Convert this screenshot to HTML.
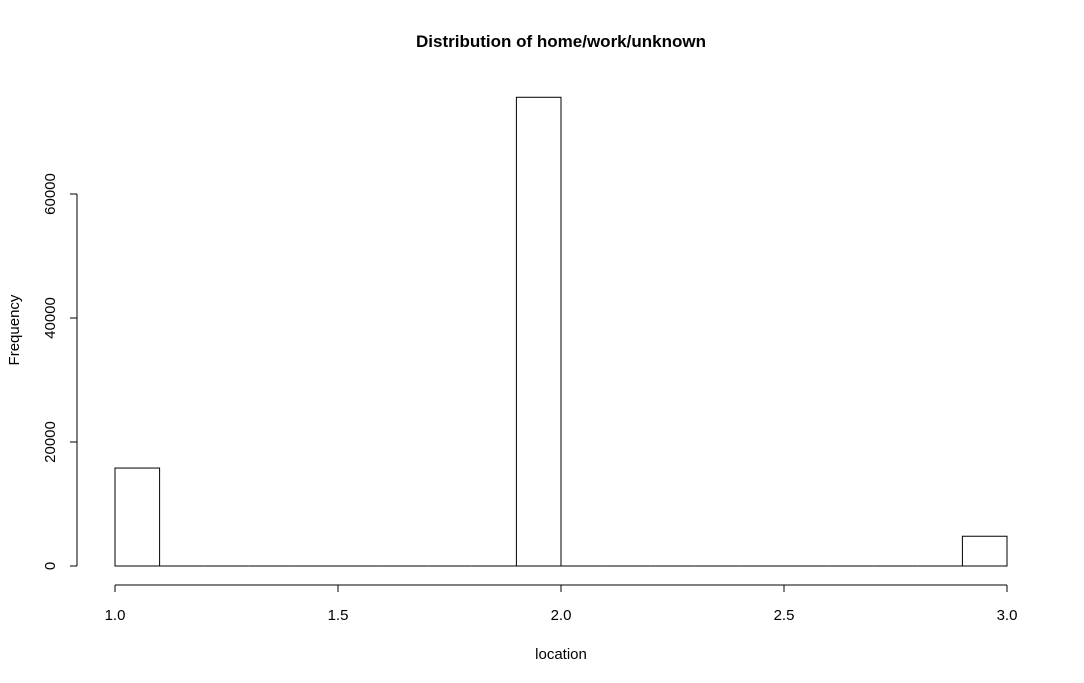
<!DOCTYPE html>
<html><head><meta charset="utf-8"><style>
html,body{margin:0;padding:0;background:#fff;}
svg{display:block;font-family:"Liberation Sans",Arial,sans-serif;}
</style></head><body>
<svg id="chart" width="1084" height="683" viewBox="0 0 1084 683" xmlns="http://www.w3.org/2000/svg">
<text x="561" y="47" text-anchor="middle" font-size="17" font-weight="bold">Distribution of home/work/unknown</text>
<text x="561" y="659" text-anchor="middle" font-size="15">location</text>
<text transform="translate(19,330) rotate(-90)" text-anchor="middle" font-size="15">Frequency</text>
<g id="bars"></g><g id="xaxis"></g><g id="yaxis"></g>
</svg>
<script>
const binStarts=[1.0,1.1,1.2,1.3,1.4,1.5,1.6,1.7,1.8,1.9,2.0,2.1,2.2,2.3,2.4,2.5,2.6,2.7,2.8,2.9];
const binCounts=[15800,0,0,0,0,0,0,0,0,75600,0,0,0,0,0,0,0,0,0,4800];
const binWidth=0.1;
const xTicks=[1.0,1.5,2.0,2.5,3.0];
const xTickLabels=["1.0","1.5","2.0","2.5","3.0"];
const yTicks=[0,20000,40000,60000];
const yTickLabels=["0","20000","40000","60000"];
const NS="http://www.w3.org/2000/svg";
const xs=v=>115+(v-1)*446;
const ys=v=>566-v*0.0062;
function mk(tag,attrs,parent){const e=document.createElementNS(NS,tag);for(const k in attrs)e.setAttribute(k,attrs[k]);parent.appendChild(e);return e;}
const bars=document.getElementById('bars');
binStarts.forEach((b,i)=>{
  const x0=xs(b),x1=xs(b+binWidth),y=ys(binCounts[i]);
  let r;
  if(binCounts[i]>0){
    r=mk('rect',{x:x0,y:y,width:x1-x0,height:ys(0)-y,fill:'none',stroke:'#000','stroke-width':1},bars);
  } else {
    r=mk('line',{x1:x0,x2:x1,y1:ys(0),y2:ys(0),stroke:'#000','stroke-width':1},bars);
  }
  
  
});
const xa=document.getElementById('xaxis');
const xl=mk('line',{x1:xs(xTicks[0]),x2:xs(xTicks[xTicks.length-1]),y1:585,y2:585,stroke:'#000'},xa);


xTicks.forEach((t,i)=>{
  const tk=mk('line',{x1:xs(t),x2:xs(t),y1:585,y2:592,stroke:'#000'},xa);
  
  
  const tx=mk('text',{x:xs(t),y:620,'text-anchor':'middle','font-size':15},xa);
  tx.textContent=xTickLabels[i];
  
  
});
const ya=document.getElementById('yaxis');
const yl=mk('line',{x1:77,x2:77,y1:ys(yTicks[0]),y2:ys(yTicks[yTicks.length-1]),stroke:'#000'},ya);


yTicks.forEach((t,i)=>{
  const tk=mk('line',{x1:70,x2:77,y1:ys(t),y2:ys(t),stroke:'#000'},ya);
  
  
  const tx=mk('text',{transform:`translate(55,${ys(t)}) rotate(-90)`,'text-anchor':'middle','font-size':15},ya);
  tx.textContent=yTickLabels[i];
  
  
});
</script>
</body></html>
